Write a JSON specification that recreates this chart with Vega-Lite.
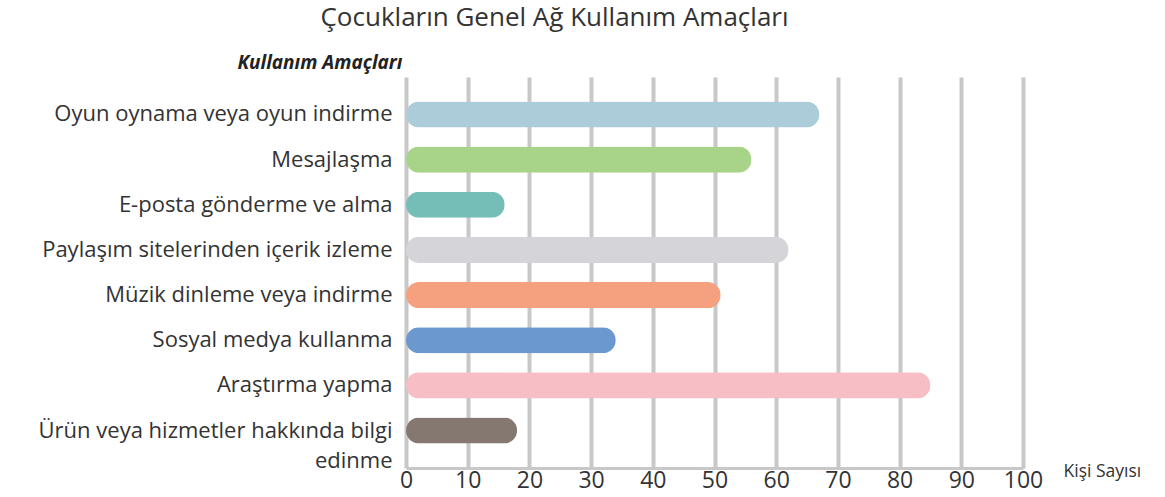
{
  "$schema": "https://vega.github.io/schema/vega-lite/v6.json",
  "width": 617,
  "height": 391,
  "autosize": {"type": "none"},
  "padding": {"left": 406, "top": 77, "right": 142, "bottom": 29},
  "background": "white",
  "title": {
    "text": "Çocukların Genel Ağ Kullanım Amaçları",
    "anchor": "middle",
    "frame": "group",
    "dx": -160,
    "offset": 22,
    "fontSize": 26,
    "fontWeight": "normal",
    "font": "Open Sans",
    "color": "#333333"
  },
  "data": {
    "values": [
      {"amac": "Oyun oynama veya oyun indirme", "kisi": 67},
      {"amac": "Mesajlaşma", "kisi": 56},
      {"amac": "E-posta gönderme ve alma", "kisi": 16},
      {"amac": "Paylaşım sitelerinden içerik izleme", "kisi": 62},
      {"amac": "Müzik dinleme veya indirme", "kisi": 51},
      {"amac": "Sosyal medya kullanma", "kisi": 34},
      {"amac": "Araştırma yapma", "kisi": 85},
      {"amac": "Ürün veya hizmetler hakkında bilgi edinme", "kisi": 18}
    ]
  },
  "config": {
    "view": {"stroke": null},
    "font": "Open Sans"
  },
  "mark": {"type": "bar", "cornerRadius": 13},
  "encoding": {
    "y": {
      "field": "amac",
      "type": "nominal",
      "sort": null,
      "scale": {"paddingInner": 0.42, "paddingOuter": 0.54},
      "axis": {
        "title": "Kullanım Amaçları",
        "titleAngle": 0,
        "titleAlign": "right",
        "titleBaseline": "middle",
        "titleX": -4,
        "titleY": -15,
        "titleFont": "Open Sans",
        "titleFontSize": 19,
        "titleFontWeight": "bold",
        "titleFontStyle": "italic",
        "titleColor": "#222222",
        "ticks": false,
        "domain": false,
        "labelPadding": 14,
        "labelLimit": 420,
        "labelFontSize": 22,
        "labelColor": "#333333",
        "labelLineHeight": 30,
        "labelExpr": "datum.label == 'Ürün veya hizmetler hakkında bilgi edinme' ? ['Ürün veya hizmetler hakkında bilgi', 'edinme'] : datum.label",
        "encode": {
          "labels": {
            "update": {
              "dy": {"signal": "datum.value == 'Ürün veya hizmetler hakkında bilgi edinme' ? 15 : 0"}
            }
          }
        }
      }
    },
    "x": {
      "field": "kisi",
      "type": "quantitative",
      "scale": {"domain": [0, 100], "nice": false},
      "axis": {
        "values": [0, 10, 20, 30, 40, 50, 60, 70, 80, 90, 100],
        "grid": true,
        "gridColor": "#c8c8c8",
        "gridWidth": 4,
        "gridOpacity": 1,
        "ticks": false,
        "domain": true,
        "domainColor": "#c8c8c8",
        "domainWidth": 3,
        "labelFlush": false,
        "labelOverlap": false,
        "labelPadding": 1,
        "labelFontSize": 23,
        "labelColor": "#333333",
        "labelBaseline": "top",
        "title": "Kişi Sayısı",
        "titleX": 657,
        "titleY": 3,
        "titleAlign": "left",
        "titleBaseline": "middle",
        "titleFontSize": 17.5,
        "titleFontWeight": "normal",
        "titleColor": "#333333"
      }
    },
    "color": {
      "field": "amac",
      "type": "nominal",
      "sort": null,
      "legend": null,
      "scale": {
        "domain": [
          "Oyun oynama veya oyun indirme",
          "Mesajlaşma",
          "E-posta gönderme ve alma",
          "Paylaşım sitelerinden içerik izleme",
          "Müzik dinleme veya indirme",
          "Sosyal medya kullanma",
          "Araştırma yapma",
          "Ürün veya hizmetler hakkında bilgi edinme"
        ],
        "range": ["#acccd9", "#a8d48a", "#75bdb7", "#d5d4d9", "#f5a07e", "#6b98cf", "#f7bfc5", "#857871"]
      }
    }
  }
}
